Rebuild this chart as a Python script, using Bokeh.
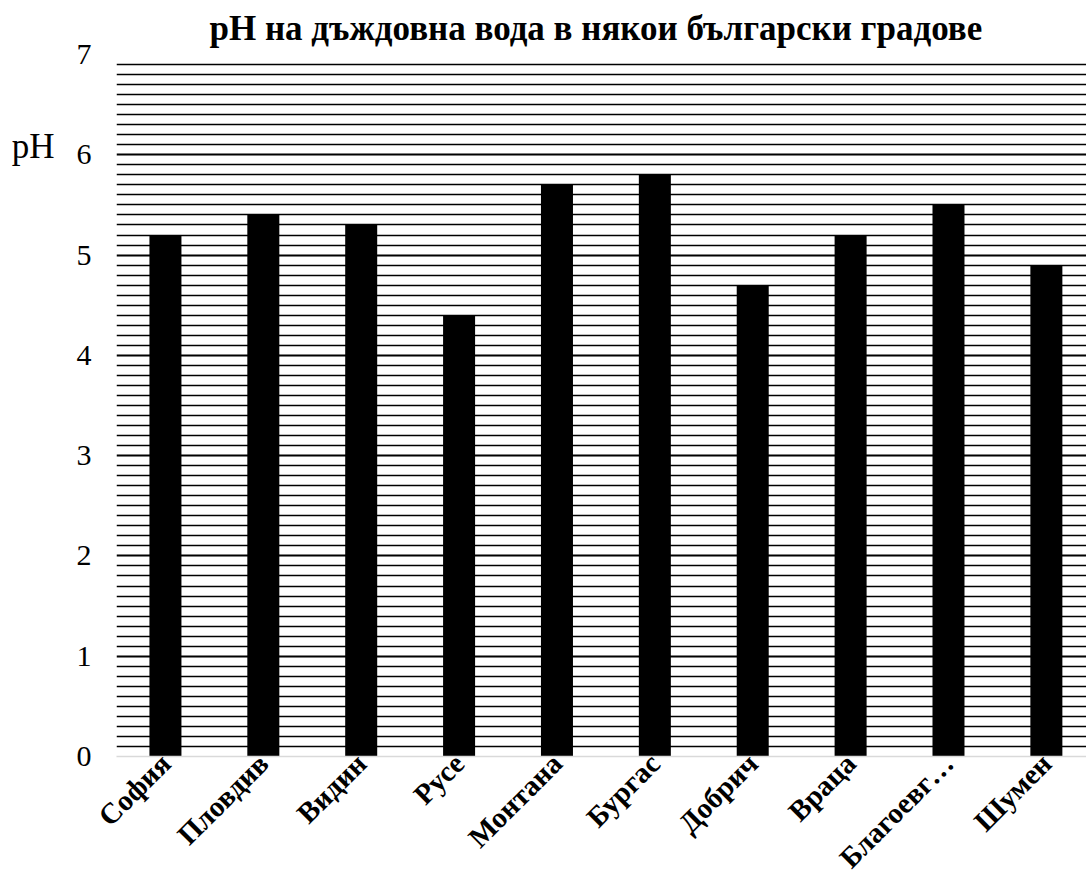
import math
from bokeh.plotting import figure
from bokeh.models import Range1d, FixedTicker, LinearAxis, ColumnDataSource
from bokeh.embed import file_html
from bokeh.resources import INLINE

cities = ["София", "Пловдив", "Видин", "Русе", "Монтана", "Бургас", "Добрич", "Враца", "Благоевг…", "Шумен"]
ph_values = [5.2, 5.4, 5.3, 4.4, 5.7, 5.8, 4.7, 5.2, 5.5, 4.9]
y_ticks = [0, 1, 2, 3, 4, 5, 6, 7]
title_text = "pH на дъждовна вода в някои български градове"
y_title = "pH"

positions = list(range(len(cities)))
src = ColumnDataSource(dict(x=positions, top=ph_values))

p = figure(width=1086, height=888, output_backend="svg", toolbar_location=None,
           x_range=Range1d(-0.5, 9.41), y_range=Range1d(0, 7.0),
           min_border_left=116, min_border_right=0, min_border_top=50, min_border_bottom=125,
           title=title_text)
p.outline_line_color = None
p.background_fill_color = "white"
p.border_fill_color = "white"

p.title.text_font = "Liberation Serif"
p.title.text_font_size = "35px"
p.title.text_font_style = "bold"
p.title.align = "left"
p.title.offset = 93
p.title.text_color = "black"
p.title.standoff = 13

p.vbar(x="x", top="top", width=0.327, source=src, fill_color="black", line_color=None)

# grid
p.xgrid.visible = False
major = [t for t in y_ticks if t > 0]
minor = [i / 10 for i in range(1, 70) if i % 10 != 0]
p.ygrid.ticker = FixedTicker(ticks=major, minor_ticks=minor)
p.ygrid.grid_line_color = "black"
p.ygrid.grid_line_width = 2.2
p.ygrid.minor_grid_line_color = "black"
p.ygrid.minor_grid_line_width = 1.6

# y axis
p.yaxis.ticker = FixedTicker(ticks=y_ticks)
p.yaxis.axis_line_color = None
p.yaxis.major_tick_line_color = None
p.yaxis.minor_tick_line_color = None
p.yaxis.major_tick_out = 0
p.yaxis.major_label_standoff = 25
p.yaxis.major_label_text_font = "Liberation Serif"
p.yaxis.major_label_text_font_size = "30px"
p.yaxis.major_label_text_color = "black"

# "pH" caption as an outer left axis with a single labelled tick
ax2 = LinearAxis(ticker=FixedTicker(ticks=[6.08]), major_label_overrides={6.08: y_title},
                 axis_line_color=None, major_tick_line_color=None, minor_tick_line_color=None,
                 major_tick_out=0, major_tick_in=0, major_label_standoff=19,
                 major_label_text_font="Liberation Serif", major_label_text_font_size="35px",
                 major_label_text_color="black")
p.add_layout(ax2, "left")

# x axis with rotated city labels
p.xaxis.ticker = FixedTicker(ticks=positions)
p.xaxis.major_label_overrides = {i: c for i, c in zip(positions, cities)}
p.xaxis.major_label_orientation = math.pi / 4
p.xaxis.axis_line_color = "#d9d9d9"
p.xaxis.axis_line_width = 1.5
p.xaxis.major_tick_line_color = None
p.xaxis.minor_tick_line_color = None
p.xaxis.major_tick_out = 0
p.xaxis.major_tick_in = 0
p.xaxis.major_label_standoff = 2
p.xaxis.major_label_text_font = "Liberation Serif"
p.xaxis.major_label_text_font_size = "29px"
p.xaxis.major_label_text_font_style = "bold"
p.xaxis.major_label_text_color = "black"
p.xaxis.major_label_text_line_height = 0.5

open("out.html", "w").write(file_html(p, INLINE))
